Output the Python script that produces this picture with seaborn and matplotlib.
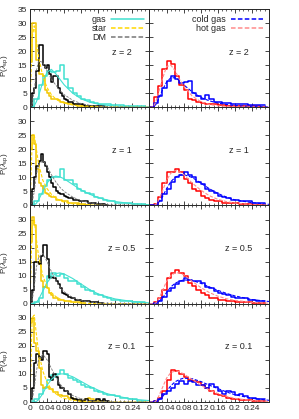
import numpy as np
import pandas as pd
import matplotlib
matplotlib.use('Agg')
import matplotlib.pyplot as plt
import seaborn as sns
from matplotlib.ticker import MultipleLocator, FuncFormatter
from matplotlib.lines import Line2D

# redshift panels, top to bottom
redshifts = ['2', '1', '0.5', '0.1']

# histogram bin widths
narrow_bin = 0.005   # star, DM
wide_bin = 0.01      # gas, cold gas, hot gas

# star histograms (bins of 0.005 starting at 0)
star_z2 = [16, 30, 30, 17, 12, 12, 11, 6, 5, 4, 3, 3, 3, 2.5, 2, 2, 1.5, 1.5, 1, 1, 1, 0.8, 0.5, 0.5, 0.5, 0.3, 0.5, 0.3, 0.2, 0.3]
star_z1 = [20, 25, 22, 13, 8, 7, 6, 4.5, 4, 3.5, 3, 3, 2, 2, 2, 1.5, 1.5, 1.5, 1, 1, 1, 0.8, 0.8, 0.5, 0.5, 0.5, 0.3, 0.3]
star_z05 = [22, 31, 28, 15, 14, 8, 6, 6, 5.5, 4, 3, 2, 2, 1.5, 1.5, 1.5, 1, 1, 1, 0.8, 0.8, 0.5, 0.5, 0.5, 0.3, 0.3]
star_z01 = [28, 30, 21, 18, 12, 6, 5, 5.5, 5.5, 4.5, 4.5, 3.5, 3.5, 2.5, 2.5, 2, 2, 2, 1.5, 1.5, 1, 0.8, 0.8, 0.5, 0.5, 0.5, 1, 1.5, 1, 1, 0.5, 0.5, 0.3, 0.3]

# DM histograms (bins of 0.005)
dm_z2 = [0, 5, 7, 13, 22, 22, 15, 14, 15, 12, 9, 11, 11, 7, 5, 4, 3, 2.5, 2, 2, 1, 1, 1, 1, 1, 0.8, 0.5, 0.5, 0.5, 0.3, 0.5, 0.3, 0.3, 0.5, 0.3]
dm_z1 = [0, 6, 10, 14, 16, 18.5, 15.5, 14, 12, 10, 8, 6.5, 5, 4.5, 4, 4, 3.5, 3, 2.5, 2.5, 2, 2, 2, 1.5, 1.5, 1.5, 1.5, 1, 1, 1, 1, 0.5, 0.5, 0.5, 0.5, 0.3]
dm_z05 = [0.5, 5, 15, 15, 14, 17, 21, 21, 16, 9, 9.5, 9, 8, 7, 5.5, 4, 3.5, 3, 2.5, 2, 2, 1.5, 1.5, 1.5, 1, 1, 1, 1, 0.5, 0.5, 0.5, 0.5, 0.3, 0.3]
dm_z01 = [1, 5, 14, 17, 16, 15, 18, 18, 17, 9, 8, 10, 9, 6, 5, 5, 4, 4, 3, 1.5, 1, 1, 0.8, 0.8, 0.5, 0.5, 1, 0.5, 0.5, 0.3, 0.5, 1, 1, 0.5, 1, 0.5, 0.3]

# gas histograms (bins of 0.01)
gas_z2 = [0, 3, 8, 11, 13, 12.5, 13, 15, 10, 7, 5, 4, 3, 2.5, 2, 1.5, 1.2, 1, 1, 0.7, 0.7, 0.7, 0.5, 0.5, 0.5, 0.5, 0.5]
gas_z1 = [0, 1.5, 4, 7, 9, 10, 10, 13, 9, 9, 7.5, 6, 5, 4.5, 4, 3, 2.5, 2, 1.5, 1.5, 1, 1, 1, 0.8, 0.5, 0.5, 0.5]
gas_z05 = [0, 0.5, 2, 6, 10, 11, 10, 10.5, 9, 8, 8, 7, 6, 5, 4.5, 3.5, 3, 2.5, 2, 1.5, 1.5, 1, 1, 1, 0.8, 0.5, 0.5]
gas_z01 = [0.5, 1, 3, 5, 8, 9.5, 10, 11.5, 10, 8.5, 8, 7, 6, 5.5, 5, 4, 3.5, 3, 2.5, 2.5, 2, 1.5, 1.5, 1, 1, 0.5, 0.5]

# hot gas histograms (bins of 0.01)
hot_z2 = [0, 3.5, 7.5, 13.5, 16.5, 15.5, 11, 8, 6, 3, 2.5, 2, 1.5, 1, 1, 1, 0.7, 0.7, 0.5, 0.5, 0.5, 0.3, 0.3, 0.3, 0.3, 0.3, 0.2]
hot_z1 = [0, 0.5, 3, 8, 12, 12, 13, 12, 9.5, 8, 6, 5, 3.5, 2.5, 2, 1.5, 1.5, 1, 1, 0.8, 0.8, 0.5, 0.5, 0.5, 0.3, 0.3, 0.3]
hot_z05 = [0, 0.5, 2, 5, 9, 11, 12, 11, 10, 7.5, 6.5, 5, 4, 3, 2, 2, 1.5, 1.5, 1, 1, 0.8, 0.5, 0.5, 0.5, 0.3, 0.3, 0.3]
hot_z01 = [0, 0.5, 1.5, 4, 8, 11.5, 11, 10, 9, 8, 7.5, 7, 6, 5, 4, 3, 2.5, 2, 1.5, 1, 1, 0.7, 0.7, 0.7, 0.5, 0.5, 0.5]

# cold gas histograms (bins of 0.01)
cold_z2 = [0, 1.5, 4, 7, 9.5, 11, 10, 8.5, 9, 9.5, 5, 4, 3, 4.5, 3, 2, 2, 1.5, 1.5, 1, 1, 1, 1, 0.7, 0.7, 0.7, 0.7]
cold_z1 = [0, 0.3, 1.5, 4, 6, 8.5, 10, 11, 12, 11, 10, 8.5, 7.5, 6, 5, 4.5, 3.5, 3, 2.5, 2, 2, 1.5, 1.5, 1.5, 1, 1, 1]
cold_z05 = [0, 0.3, 1, 2.5, 4.5, 5.5, 7, 8, 9, 8.5, 8, 8, 7.5, 6, 5.5, 4.5, 4, 3.5, 3, 2.5, 2, 2, 2, 1.5, 1.5, 1, 1]
cold_z01 = [0, 0.3, 1, 2.7, 4, 5, 6.5, 7.5, 6.3, 7.5, 7, 6, 6, 5, 6.5, 5.5, 4, 3, 4, 3.5, 2.5, 3, 2, 1.5, 1.5, 1, 1]

# fitted curves, sampled at fit_x
fit_x = [0.0, 0.005, 0.01, 0.015, 0.02, 0.03, 0.04, 0.05, 0.06, 0.07, 0.08, 0.1, 0.12, 0.14, 0.16, 0.18, 0.2, 0.24, 0.28]

star_fit_z2 = [0, 25, 29, 24, 18, 11, 7, 4.5, 3, 2, 1.5, 0.8, 0.5, 0.3, 0.2, 0.1, 0.1, 0, 0]
star_fit_z1 = [0, 22, 25, 20, 15, 9, 6, 4, 2.7, 1.8, 1.2, 0.6, 0.3, 0.2, 0.1, 0, 0, 0, 0]
star_fit_z05 = [0, 28, 30, 23, 17, 10, 6, 4, 2.6, 1.7, 1.1, 0.5, 0.25, 0.1, 0, 0, 0, 0, 0]
star_fit_z01 = [0, 30, 31, 24, 18, 11, 7, 4.5, 3, 2, 1.3, 0.6, 0.3, 0.1, 0, 0, 0, 0, 0]

dm_fit_z2 = [0, 1, 6, 13, 16.5, 16, 13, 10, 8, 6, 4.5, 2.5, 1.3, 0.7, 0.4, 0.2, 0.1, 0.05, 0]
dm_fit_z1 = [0, 1, 5, 11, 14.5, 16, 14, 11, 8.5, 6.5, 5, 3, 1.7, 1, 0.6, 0.3, 0.2, 0.1, 0]
dm_fit_z05 = [0, 1, 6, 13, 16.5, 18, 15, 11.5, 8.5, 6, 4.3, 2.2, 1.1, 0.6, 0.3, 0.2, 0.1, 0, 0]
dm_fit_z01 = [0, 0.5, 5, 11, 15, 17, 15, 12, 9, 6.5, 4.5, 2.3, 1.1, 0.5, 0.3, 0.1, 0.05, 0, 0]

gas_fit_z2 = [0, 0, 0.5, 2, 4, 9, 12.5, 13.5, 12, 10, 8, 5, 3, 1.8, 1.1, 0.7, 0.4, 0.2, 0.1]
gas_fit_z1 = [0, 0, 0.2, 0.8, 2, 5, 8, 9.8, 10.5, 10.2, 9.5, 7.5, 5.5, 4, 2.8, 2, 1.4, 0.6, 0.3]
gas_fit_z05 = [0, 0, 0, 0.5, 1.5, 4.5, 7.5, 9.5, 10.7, 11, 10.6, 9, 7, 5, 3.5, 2.5, 1.7, 0.8, 0.3]
gas_fit_z01 = [0, 0, 0, 0.2, 0.8, 3, 6, 8, 9.3, 10, 10, 9, 7.3, 5.6, 4.2, 3, 2.2, 1, 0.5]

hot_fit_z2 = [0, 0, 0.5, 2, 4.5, 10, 14.5, 15, 13, 10, 7.5, 4, 2, 1, 0.5, 0.3, 0.15, 0.05, 0]
hot_fit_z1 = [0, 0, 0, 0.3, 1.5, 5, 9, 11.5, 12.5, 12, 11, 8, 5.5, 3.5, 2.2, 1.4, 0.9, 0.3, 0.1]
hot_fit_z05 = [0, 0, 0, 0.3, 1.2, 4.5, 8, 10, 11, 11, 10.3, 8, 5.8, 4, 2.7, 1.8, 1.2, 0.5, 0.2]
hot_fit_z01 = [0, 0, 0, 0.3, 1.5, 5, 8.5, 10.5, 11, 10.8, 10, 8, 6, 4.3, 3, 2, 1.3, 0.5, 0.2]

cold_fit_z2 = [0, 0, 0.3, 1, 2.5, 6, 9, 10.5, 10.5, 9.5, 8, 5.5, 3.5, 2.3, 1.5, 1, 0.6, 0.3, 0.1]
cold_fit_z1 = [0, 0, 0, 0.2, 0.8, 3, 6, 8.5, 10, 10.8, 11, 10, 8, 6, 4.3, 3, 2, 1, 0.4]
cold_fit_z05 = [0, 0, 0, 0.1, 0.5, 2, 4, 6, 7.3, 8, 8.5, 8.3, 7.3, 6, 4.8, 3.7, 2.8, 1.5, 0.8]
cold_fit_z01 = [0, 0, 0, 0.1, 0.4, 1.8, 3.8, 5.8, 7.2, 8, 8.5, 8.3, 7.3, 6, 4.8, 3.6, 2.6, 1.3, 0.6]

x_tick_labels = [0, 0.04, 0.08, 0.12, 0.16, 0.2, 0.24]

# colours
c_gas = '#40E0D0'
c_star = '#F2C500'
c_dm = '#000000'
c_cold = '#0000FF'
c_hot = '#FF0000'

hist_left = {
    '2': [(gas_z2, wide_bin, c_gas), (star_z2, narrow_bin, c_star), (dm_z2, narrow_bin, c_dm)],
    '1': [(gas_z1, wide_bin, c_gas), (star_z1, narrow_bin, c_star), (dm_z1, narrow_bin, c_dm)],
    '0.5': [(gas_z05, wide_bin, c_gas), (star_z05, narrow_bin, c_star), (dm_z05, narrow_bin, c_dm)],
    '0.1': [(gas_z01, wide_bin, c_gas), (star_z01, narrow_bin, c_star), (dm_z01, narrow_bin, c_dm)],
}
hist_right = {
    '2': [(hot_z2, wide_bin, c_hot), (cold_z2, wide_bin, c_cold)],
    '1': [(hot_z1, wide_bin, c_hot), (cold_z1, wide_bin, c_cold)],
    '0.5': [(hot_z05, wide_bin, c_hot), (cold_z05, wide_bin, c_cold)],
    '0.1': [(hot_z01, wide_bin, c_hot), (cold_z01, wide_bin, c_cold)],
}
fit_style = {
    'gas': dict(color=c_gas, linestyle='-', linewidth=0.8),
    'star': dict(color='#FFD700', linestyle=(0, (3, 1.5)), linewidth=0.8),
    'DM': dict(color='#777777', linestyle=(0, (3, 1.5)), linewidth=0.6),
    'cold gas': dict(color=c_cold, linestyle=(0, (3, 1.5)), linewidth=0.8),
    'hot gas': dict(color='#FF8C8C', linestyle=(0, (3, 1.5)), linewidth=0.8),
}
fit_left = {
    '2': [('gas', gas_fit_z2), ('star', star_fit_z2), ('DM', dm_fit_z2)],
    '1': [('gas', gas_fit_z1), ('star', star_fit_z1), ('DM', dm_fit_z1)],
    '0.5': [('gas', gas_fit_z05), ('star', star_fit_z05), ('DM', dm_fit_z05)],
    '0.1': [('gas', gas_fit_z01), ('star', star_fit_z01), ('DM', dm_fit_z01)],
}
fit_right = {
    '2': [('cold gas', cold_fit_z2), ('hot gas', hot_fit_z2)],
    '1': [('cold gas', cold_fit_z1), ('hot gas', hot_fit_z1)],
    '0.5': [('cold gas', cold_fit_z05), ('hot gas', hot_fit_z05)],
    '0.1': [('cold gas', cold_fit_z01), ('hot gas', hot_fit_z01)],
}

sns.set_style('ticks')
plt.rcParams['font.family'] = ['Liberation Sans', 'DejaVu Sans']
plt.rcParams['mathtext.fontset'] = 'custom'
plt.rcParams['mathtext.rm'] = 'Liberation Sans'
plt.rcParams['mathtext.it'] = 'Liberation Sans:italic'

fig, axs = plt.subplots(4, 2, figsize=(2.99, 4.19), dpi=100)
fig.subplots_adjust(left=30 / 299, right=269 / 299, top=1 - 9 / 419, bottom=1 - 402 / 419,
                    hspace=0, wspace=0)


def draw_hist(ax, vals, width, color):
    n = len(vals)
    centers = (np.arange(n) + 0.5) * width
    df = pd.DataFrame({'x': centers, 'w': vals})
    sns.histplot(data=df, x='x', weights='w', binwidth=width, binrange=(0, n * width),
                 element='step', fill=False, color=color, linewidth=1.1, ax=ax)


gfmt = FuncFormatter(lambda v, p: '%g' % round(v, 4))

for row, z in enumerate(redshifts):
    for col in range(2):
        ax = axs[row, col]
        series = hist_left[z] if col == 0 else hist_right[z]
        fits = fit_left[z] if col == 0 else fit_right[z]
        for vals, width, color in series:
            draw_hist(ax, vals, width, color)
        for name, vals in fits:
            sns.lineplot(x=fit_x, y=vals, ax=ax, legend=False, **fit_style[name])

        ax.set_xlim(0, 0.28)
        ax.set_ylim(0, 35)
        ax.set_xlabel('')
        ax.set_ylabel('')
        ax.set_xticks(x_tick_labels)
        ax.xaxis.set_minor_locator(MultipleLocator(0.01))
        ax.yaxis.set_major_locator(MultipleLocator(5))
        ax.tick_params(which='both', direction='in', top=True, right=True, labelsize=6, pad=2)
        ax.tick_params(which='major', length=3, width=0.6)
        ax.tick_params(which='minor', length=1.6, width=0.5)
        ax.xaxis.set_major_formatter(gfmt)
        for s in ax.spines.values():
            s.set_linewidth(0.7)

        if row < 3:
            ax.tick_params(labelbottom=False)
        if col == 1:
            ax.tick_params(labelleft=False)
        else:
            if row > 0:
                ax.set_yticks([0, 5, 10, 15, 20, 25, 30, 35])
                ax.set_yticklabels(['0', '5', '10', '15', '20', '25', '30', ''])
            ax.set_ylabel(r'P($\lambda_{\rm sp}$)', fontsize=5.8, labelpad=0)
            ax.yaxis.set_label_coords(-0.165, 0.42)

        zx = 0.77 if col == 0 else 0.745
        ax.text(zx, 0.56, 'z = ' + z, transform=ax.transAxes, fontsize=6.5,
                ha='center', va='center')

        if row == 0:
            names = [n for n, _ in fits]
            handles = []
            for n in names:
                st = dict(fit_style[n])
                st['linewidth'] = 1.1
                handles.append(Line2D([], [], **st))
            ax.legend(handles, names, loc='upper right', frameon=False, fontsize=6.5,
                      markerfirst=False, handlelength=3.6, handletextpad=0.5,
                      labelspacing=0.0, borderaxespad=0.3, borderpad=0.35)

fig.savefig('out.png', dpi=100)
